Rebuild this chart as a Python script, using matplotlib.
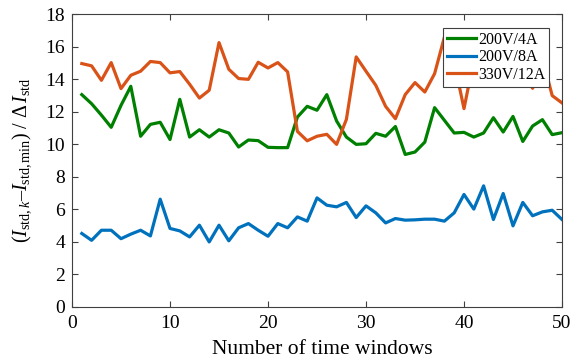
import matplotlib
matplotlib.use("Agg")
import matplotlib.pyplot as plt
import numpy as np

plt.rcParams['font.family'] = ['Liberation Serif', 'DejaVu Serif']
plt.rcParams['mathtext.fontset'] = 'custom'
plt.rcParams['mathtext.rm'] = 'Liberation Serif'
plt.rcParams['mathtext.it'] = 'Liberation Serif:italic'
plt.rcParams['mathtext.bf'] = 'Liberation Serif:bold'

# time window index
windows = np.arange(1, 51)

# 200V/4A
s_200v_4a = [13.06, 12.5, 11.8, 11.05, 12.4, 13.57, 10.5, 11.23, 11.36, 10.3,
             12.77, 10.45, 10.9, 10.45, 10.9, 10.7, 9.84, 10.27, 10.23, 9.82,
             9.8, 9.8, 11.68, 12.34, 12.1, 13.06, 11.44, 10.45, 10.0, 10.04,
             10.68, 10.5, 11.1, 9.38, 9.53, 10.14, 12.26, 11.48, 10.7, 10.74,
             10.45, 10.7, 11.64, 10.76, 11.72, 10.18, 11.13, 11.52, 10.6, 10.72]

# 200V/8A
s_200v_8a = [4.52, 4.1, 4.72, 4.72, 4.2, 4.48, 4.72, 4.37, 6.63, 4.83,
             4.68, 4.31, 5.03, 4.0, 5.03, 4.07, 4.87, 5.13, 4.72, 4.35,
             5.13, 4.87, 5.54, 5.28, 6.71, 6.26, 6.16, 6.43, 5.5, 6.22,
             5.79, 5.17, 5.44, 5.34, 5.36, 5.4, 5.4, 5.28, 5.79, 6.92,
             6.02, 7.45, 5.38, 6.98, 4.99, 6.43, 5.61, 5.85, 5.95, 5.38]

# 330V/12A
s_330v_12a = [14.97, 14.83, 13.94, 15.03, 13.43, 14.25, 14.5, 15.1, 15.03, 14.4,
              14.48, 13.7, 12.85, 13.33, 16.26, 14.62, 14.05, 14.0, 15.05, 14.7,
              15.03, 14.46, 10.8, 10.22, 10.5, 10.62, 10.0, 11.54, 15.38, 14.5,
              13.63, 12.34, 11.58, 13.06, 13.8, 13.22, 14.35, 16.6, 15.05, 12.2,
              15.2, 14.8, 15.4, 14.6, 15.0, 14.4, 13.45, 15.3, 13.0, 12.55]

series_labels = ['200V/4A', '200V/8A', '330V/12A']
colors = ['#008000', '#0072BD', '#D95319']

fig = plt.figure(figsize=(5.77, 3.63), dpi=100)
ax = fig.add_axes([0.1248, 0.1543, 0.974 - 0.1248, 0.9606 - 0.1543])

for ys, lab, c in zip([s_200v_4a, s_200v_8a, s_330v_12a], series_labels, colors):
    ax.plot(windows, ys, color=c, lw=2.3, label=lab)

ax.set_xlim(0, 50)
ax.set_ylim(0, 18)
ax.set_xticks(np.arange(0, 51, 10))
ax.set_yticks(np.arange(0, 19, 2))
ax.tick_params(direction='in', top=True, right=True, length=4, width=0.8,
               color='#404040', labelsize=14)
ax.tick_params(axis='x', pad=6)
ax.tick_params(axis='y', pad=5)
for sp in ax.spines.values():
    sp.set_color('#404040')
    sp.set_linewidth(0.8)

ax.set_xlabel('Number of time windows', fontsize=15.5)
ax.xaxis.set_label_coords(0.51, -0.112)
ax.set_ylabel(r'$(I_{\mathrm{std},\mathit{k}}$' + '\u2013' +
              r'$I_{\mathrm{std,min}})\ /\ \mathit{\Delta}\,I_{\mathrm{std}}$',
              fontsize=14.5)
ax.yaxis.set_label_coords(-0.08, 0.5)

leg = ax.legend(loc='upper right', bbox_to_anchor=(549 / 577, 1 - 28 / 363),
                bbox_transform=fig.transFigure, fontsize=11.5, frameon=True,
                fancybox=False, framealpha=1, edgecolor='#404040',
                handlelength=1.8, handletextpad=0.12, borderpad=0.25,
                labelspacing=0.08, borderaxespad=0)
leg.get_frame().set_linewidth(0.8)

fig.savefig('out.png', dpi=100)
